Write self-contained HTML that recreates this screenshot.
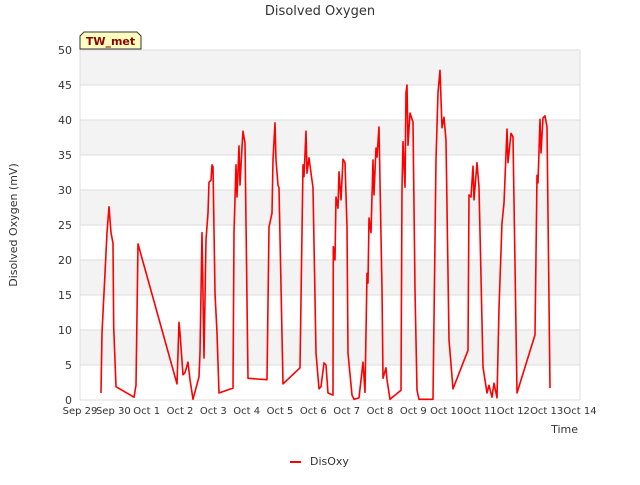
<!DOCTYPE html>
<html><head><meta charset="utf-8"><style>
body{margin:0;background:#fff;font-family:"Liberation Sans","DejaVu Sans",sans-serif}
text{font-family:"DejaVu Sans","Liberation Sans",sans-serif}
</style></head><body>
<svg id="chart" width="640" height="480" xmlns="http://www.w3.org/2000/svg">
<text x="320" y="15" text-anchor="middle" font-size="13" fill="#333">Disolved Oxygen</text>
<text transform="translate(17,225) rotate(-90)" text-anchor="middle" font-size="11" fill="#333">Disolved Oxygen (mV)</text>
<text x="578" y="433" text-anchor="end" font-size="11" fill="#333">Time</text>
<g id="grid"></g>
<g id="axes"></g>
<g id="series"></g>
<g>
<path d="M80,49 L80,36 L84,32 L137,32 L141,36 L141,49 Z" fill="#ffffc0" stroke="#333" stroke-width="1"/>
<text x="110.5" y="45" text-anchor="middle" font-size="11" font-weight="bold" fill="#8b0000">TW_met</text>
</g>
<g>
<line x1="290" y1="462" x2="301" y2="462" stroke="#f00" stroke-width="2"/>
<text x="310" y="465" font-size="11" fill="#333">DisOxy</text>
</g>
</svg>
<script>
const xTickLabels=["Sep 29","Sep 30","Oct 1","Oct 2","Oct 3","Oct 4","Oct 5","Oct 6","Oct 7","Oct 8","Oct 9","Oct 10","Oct 11","Oct 12","Oct 13","Oct 14"];
const yTicks=[0,5,10,15,20,25,30,35,40,45,50];
const days=[0.63,0.66,0.72,0.75,0.81,0.87,0.93,0.99,1.01,1.08,1.62,1.68,1.74,2.91,2.97,3.0,3.09,3.15,3.24,3.3,3.39,3.57,3.6,3.66,3.72,3.78,3.84,3.87,3.93,3.96,3.99,4.05,4.11,4.17,4.59,4.62,4.68,4.71,4.77,4.8,4.86,4.89,4.95,5.04,5.61,5.67,5.76,5.79,5.85,5.88,5.94,5.97,6.09,6.6,6.69,6.72,6.78,6.81,6.87,6.99,7.08,7.17,7.23,7.32,7.38,7.44,7.59,7.6,7.65,7.68,7.74,7.77,7.83,7.89,7.95,8.01,8.04,8.16,8.22,8.37,8.49,8.55,8.61,8.64,8.67,8.73,8.79,8.82,8.88,8.91,8.97,9.06,9.09,9.18,9.21,9.3,9.63,9.66,9.69,9.75,9.78,9.81,9.84,9.9,9.99,10.05,10.11,10.17,10.59,10.68,10.74,10.8,10.86,10.92,10.98,11.07,11.19,11.64,11.67,11.73,11.79,11.82,11.91,11.97,12.09,12.21,12.27,12.36,12.42,12.51,12.57,12.66,12.72,12.81,12.84,12.93,12.99,13.11,13.65,13.71,13.74,13.8,13.83,13.89,13.95,14.01,14.1];
const disOxy=[1.0,9.6,15.3,18.1,23.9,27.6,23.9,22.4,10.4,1.9,0.4,2.1,22.3,2.3,11.1,9.6,3.6,3.9,5.4,2.9,0.1,3.3,6.7,23.9,6.0,22.9,26.7,31.1,31.4,33.6,33.3,15.3,9.6,1.0,1.7,23.9,33.6,29.0,36.3,30.7,36.1,38.4,36.7,3.1,2.9,24.7,26.7,34.3,39.6,34.3,30.7,30.3,2.3,4.6,33.6,31.9,38.4,32.4,34.6,30.3,6.7,1.6,1.9,5.3,5.0,1.0,0.7,21.9,20.0,29.0,27.4,32.6,28.6,34.4,33.9,24.7,6.7,0.7,0.1,0.3,5.4,1.1,18.1,16.7,26.0,23.9,34.3,29.3,36.0,34.7,39.0,15.7,3.1,4.6,2.9,0.1,1.4,30.4,36.9,30.4,43.9,45.0,36.4,41.0,39.7,15.7,1.4,0.1,0.1,34.3,43.9,47.1,38.9,40.4,37.1,8.6,1.6,7.1,29.3,29.0,33.4,28.6,33.9,30.4,4.7,1.0,2.1,0.4,2.4,0.3,13.1,25.3,28.1,38.7,33.9,38.1,37.6,1.0,9.3,32.1,31.0,40.1,35.3,40.3,40.6,39.0,1.7];
const NS="http://www.w3.org/2000/svg";
const X0=80,X1=580,Y0=400,Y1=50;
const xs=d=>X0+d*(X1-X0)/(xTickLabels.length-1);
const ys=v=>Y0-v*(Y0-Y1)/50;
function mk(tag,attrs,parent){const e=document.createElementNS(NS,tag);for(const k in attrs)e.setAttribute(k,attrs[k]);parent.appendChild(e);return e;}
const grid=document.getElementById('grid'),axes=document.getElementById('axes'),series=document.getElementById('series');
for(let i=0;i<yTicks.length-1;i++){
  if(i%2===1){const r=mk('rect',{x:X0,y:ys(yTicks[i+1]),width:X1-X0,height:ys(yTicks[i])-ys(yTicks[i+1]),fill:'#f3f3f3'},grid);
  
  }
}
yTicks.forEach(v=>{
  const l=mk('line',{x1:X0,x2:X1,y1:ys(v),y2:ys(v),stroke:'#dcdcdc','stroke-width':1},grid);
  
  
  const t=mk('text',{x:X0-8,y:ys(v)+4,'text-anchor':'end','font-size':11,fill:'#333'},axes);
  t.textContent=v;
  
  
});
mk('line',{x1:X0,x2:X0,y1:Y1,y2:Y0,stroke:'#dcdcdc'},axes);
mk('line',{x1:X1,x2:X1,y1:Y1,y2:Y0,stroke:'#dcdcdc'},axes);
xTickLabels.forEach((s,i)=>{
  const t=mk('text',{x:xs(i),y:414,'text-anchor':'middle','font-size':10,fill:'#333'},axes);
  t.textContent=s;
  
  
});
const p=mk('polyline',{points:days.map((d,i)=>xs(d).toFixed(1)+','+ys(disOxy[i]).toFixed(1)).join(' '),fill:'none',stroke:'#ff0000','stroke-width':1.6,'stroke-linejoin':'round'},series);


</script>
</body></html>
